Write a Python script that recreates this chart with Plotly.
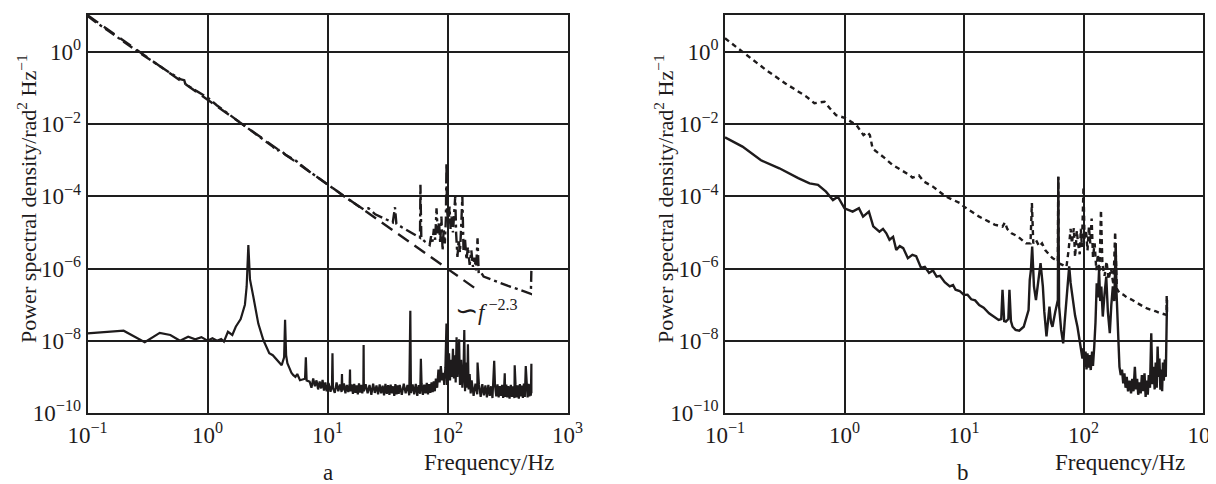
import plotly.graph_objects as go

# The page body keeps an 8px margin, so the figure is drawn 8px smaller than the window
# and all reference pixel positions are shifted by 8px.
OFF = 8
W, H = 1216 - OFF, 484 - OFF
INK = "#1e1b1c"
GRID = "#1e1e1e"
FONT = "Liberation Serif, Times New Roman, serif"

# ---------------- Panel a ----------------
a_top_f = [0.1, 0.12, 0.15, 0.2, 0.25, 0.3, 0.4, 0.5, 0.6, 0.64, 0.66, 0.7, 0.8, 1.0, 1.2, 1.5, 1.8,
           2.2, 2.8, 3.5, 3.8, 4.0, 4.5, 5.5, 7, 8.5, 10, 12, 14, 17, 20, 22, 25, 30, 35, 36.5, 37.5,
           42, 48, 55, 59, 59.5, 60.5, 65, 69, 71, 73, 75, 77, 79, 81, 83, 85, 87, 89, 91, 93, 95, 97,
           98, 99, 102, 104, 106, 108, 111, 114, 116, 118, 121, 124, 127, 130, 133, 136, 140, 144, 148,
           153, 158, 163, 168, 173, 178, 182, 190, 200, 230, 270, 320, 380, 440, 495, 500]
a_top_psd = [10.0, 6.3, 3.8, 1.9, 1.15, 0.76, 0.40, 0.25, 0.174, 0.166, 0.117, 0.112, 0.085, 0.055, 0.033,
             0.019, 0.012, 7.6e-3, 4.0e-3, 2.4e-3, 1.8e-3, 2.0e-3, 1.4e-3, 9.5e-4, 5.0e-4, 3.2e-4, 2.2e-4,
             1.4e-4, 9.5e-5, 6.3e-5, 4.4e-5, 4.7e-5, 3.2e-5, 2.4e-5, 1.9e-5, 5.0e-5, 1.74e-5,
             1.38e-5, 1.05e-5, 8.3e-6, 7.2e-6, 2.1e-4, 6.9e-6, 5.6e-6, 4.8e-6, 4.5e-6, 7.9e-6, 5.6e-6,
             1.26e-5, 6.3e-6, 4.7e-5, 9.5e-6, 2.0e-5, 5.0e-6, 2.75e-5, 3.2e-6, 1.26e-5, 5.0e-6, 2.5e-5,
             8.5e-4, 4.2e-5, 1.78e-5, 5.2e-5, 1.26e-5, 2.75e-5, 1.0e-5, 4.0e-5, 1.0e-4, 9.5e-6, 2.1e-6,
             6.3e-6, 2.8e-6, 1.4e-5, 1.0e-4, 3.2e-6, 6.3e-6, 1.74e-6, 4.0e-6,
             1.26e-6, 3.2e-6, 1.12e-6, 2.0e-6, 8.9e-7, 6.9e-6, 7.4e-7, 7.9e-7, 6.0e-7, 5.0e-7, 4.0e-7,
             3.3e-7, 2.75e-7, 2.3e-7, 2.0e-7, 9.1e-7]

a_fit_f = [0.1, 186]
a_fit_psd = [10.5, 2.3e-7]

a_low_f = [0.1, 0.2, 0.3, 0.4, 0.49, 0.59, 0.69, 0.79, 0.89, 1.0, 1.1, 1.2, 1.3, 1.37, 1.48, 1.61, 1.72,
           1.89, 2.05, 2.12, 2.19, 2.26, 2.41, 2.65, 2.92, 3.27, 3.5, 3.72, 4.15, 4.35, 4.43, 4.52, 4.63,
           4.8, 5.0, 5.19, 5.4, 5.6, 5.9, 6.5, 6.6, 6.7, 7.1,
           7.35, 7.6, 7.85, 8.1, 8.35, 8.6, 8.85, 9.1, 9.35, 9.6, 9.85,
           10.2, 10.6, 10.9, 11.0, 11.1, 11.5, 11.9, 12.3, 12.7, 13.1, 13.2, 13.3, 13.7, 14.1, 14.5, 14.9,
           15.3, 15.4, 15.5, 15.9, 16.3, 16.7, 17.1, 17.5, 17.9, 18.3, 18.7, 19.1, 19.5, 19.9, 20.0, 20.1,
           20.8, 21.6, 22.4, 23.2, 24.0, 24.8, 25.6, 26.4, 27.2, 28.0, 28.8, 29.6, 30.4, 31.2, 32.0, 32.8,
           33.6, 34.4, 35.2, 36.0, 36.8, 37.6, 38.4, 39.2, 40.0,
           41.6, 43.2, 44.8, 46.4, 48.0, 49.0, 49.6, 51.2, 52.8, 54.4, 56.0, 57.6, 59.2, 60.0, 60.8, 62.4,
           64.0, 65.6, 67.2, 68.8, 70.4, 72.0, 73.6, 75.2, 76.8, 78.4, 80.0,
           82, 84, 86, 88, 90, 92, 94, 96, 98, 99, 101, 103, 105, 107, 109, 111, 113, 115, 117, 119, 121,
           123, 125, 127, 130, 133, 136, 138, 140, 143, 146, 148, 150, 153, 156, 159,
           165, 171, 177, 178, 183, 189, 195, 201, 207, 213, 219, 225, 231, 237, 245, 249, 255, 261, 267,
           273, 279, 285, 291, 297, 300, 303, 309, 315,
           321, 329, 337, 345, 353, 361, 363, 369, 377, 385, 393, 401, 409, 417, 425, 433, 441, 449, 457,
           465, 473, 481, 489, 495, 500, 500]
a_low_psd = [1.6e-8, 1.9e-8, 9.1e-9, 1.66e-8, 1.45e-8, 1.0e-8, 1.29e-8, 1.1e-8, 1.26e-8, 1.0e-8, 1.17e-8,
             1.0e-8, 1.12e-8, 9.5e-9, 1.78e-8, 1.45e-8, 2.45e-8,
             4.0e-8, 1.0e-7, 3.2e-7, 4.5e-6, 5.0e-7, 1.66e-7, 3.0e-8, 1.05e-8, 4.5e-9, 4.0e-9, 3.2e-9,
             2.1e-9, 3.5e-9, 3.8e-8, 4.0e-9, 2.4e-9,
             1.8e-9, 1.3e-9, 1.12e-9, 1.0e-9, 1.2e-9, 8.1e-10, 8.9e-10, 3.5e-9, 8.0e-10, 7.4e-10,
             5.0e-10, 9.0e-10, 5.5e-10, 8.0e-10, 4.5e-10, 7.5e-10, 4.8e-10, 8.2e-10, 4.2e-10, 7.0e-10, 4.0e-10,
             6.8e-10, 3.9e-10, 6.0e-10, 4.5e-9, 5.0e-10, 3.6e-10, 7.0e-10, 4.0e-10, 6.2e-10, 3.8e-10, 1.2e-9,
             4.2e-10, 6.6e-10, 3.5e-10, 6.0e-10, 3.8e-10,
             6.5e-10, 1.6e-9, 4.0e-10, 6.2e-10, 3.4e-10, 6.4e-10, 3.6e-10, 5.8e-10, 3.3e-10, 6.6e-10, 3.7e-10,
             6.0e-10, 3.5e-10, 5.6e-10, 7.6e-9, 4.0e-10,
             6.3e-10, 3.5e-10, 6.0e-10, 3.2e-10, 6.5e-10, 3.6e-10, 5.8e-10, 3.3e-10, 6.2e-10, 3.5e-10, 5.7e-10,
             3.1e-10, 6.4e-10, 3.4e-10, 5.9e-10, 3.2e-10,
             6.1e-10, 3.5e-10, 5.5e-10, 3.0e-10, 6.3e-10, 3.3e-10, 5.8e-10, 3.4e-10, 6.0e-10,
             3.2e-10, 6.5e-10, 3.5e-10, 6.0e-10, 3.1e-10, 6.8e-8, 3.6e-10, 6.2e-10, 3.3e-10, 6.4e-10, 3.0e-10,
             5.9e-10, 3.4e-10, 3.2e-9, 6.6e-10, 3.2e-10,
             6.1e-10, 3.5e-10, 6.8e-10, 3.3e-10, 6.3e-10, 3.6e-10, 7.0e-10, 3.8e-10, 7.5e-10, 4.0e-10, 9.0e-10,
             5.0e-10, 1.6e-9, 7.0e-10, 2.0e-9, 8.0e-10, 1.3e-9, 6.0e-10, 1.8e-9, 3.0e-8, 6.0e-10, 2.5e-9,
             4.5e-9, 8.0e-10, 3.0e-9, 1.0e-9, 6.0e-9, 9.0e-10, 4.0e-9, 7.0e-10, 1.26e-8, 1.0e-9,
             8.0e-9, 1.1e-8, 6.0e-10, 3.0e-9, 5.0e-10, 1.5e-9, 2.0e-8, 4.0e-10, 2.5e-9, 5.0e-10, 8.0e-9,
             4.5e-10, 1.2e-9, 3.5e-10, 8.0e-10,
             3.0e-10, 6.5e-10, 3.3e-10, 2.5e-9, 6.0e-10, 2.8e-10, 6.3e-10, 3.1e-10, 5.8e-10, 2.7e-10, 6.0e-10,
             3.0e-10, 5.5e-10, 2.6e-10, 2.8e-9, 5.7e-10, 2.9e-10, 6.2e-10, 2.7e-10,
             5.6e-10, 3.0e-10, 6.0e-10, 2.6e-10, 5.8e-10, 1.26e-9, 2.8e-10, 6.1e-10, 2.7e-10,
             5.6e-10, 2.5e-10, 6.0e-10, 2.8e-10, 5.5e-10, 2.6e-10, 2.1e-9, 6.2e-10, 2.7e-10, 5.8e-10, 2.5e-10,
             6.3e-10, 2.9e-10, 5.7e-10, 2.6e-10, 6.5e-10, 2.8e-10, 2.0e-9, 6.0e-10,
             2.7e-10, 6.4e-10, 2.9e-10, 6.2e-10, 3.0e-10, 2.3e-9, 3.5e-10]

# ---------------- Panel b ----------------
b_top_f = [0.1, 0.145, 0.22, 0.32, 0.48, 0.56, 0.68, 0.75, 0.85, 1.0, 1.26, 1.44, 1.55, 1.63, 1.72, 2.1,
           2.53, 3.5, 3.7, 4.2, 4.6, 5.5, 7.0, 9.3, 10, 13.4, 18, 21, 22, 23, 25, 28, 33, 36, 37, 38, 40,
           42.7, 45, 48, 55, 61, 61.5, 62, 66, 72, 75, 78, 80, 83, 85, 88, 90, 93, 95, 97, 100, 102, 105,
           108, 111, 114, 117, 120, 124, 128, 132, 136, 140, 144, 150, 156, 162, 170, 178, 184, 190, 200,
           215, 230, 250, 270, 290, 316, 340, 370, 400, 430, 462, 480, 495, 497, 500]
b_top_psd = [2.4, 0.91, 0.32, 0.135, 0.058, 0.038, 0.042, 0.028, 0.0178, 0.0151, 9.5e-3, 5.0e-3, 6.0e-3,
             5.0e-3, 2.1e-3, 1.26e-3, 7.4e-4, 3.9e-4, 3.3e-4, 3.8e-4, 2.6e-4, 1.86e-4, 1.0e-4, 6.5e-5,
             5.2e-5, 2.75e-5, 1.66e-5, 1.45e-5, 1.9e-5, 1.26e-5, 9.5e-6, 7.9e-6, 5.0e-6, 5.0e-6, 6.5e-5,
             5.0e-6, 6.2e-6, 4.1e-6, 5.0e-6, 3.2e-6, 1.95e-6, 1.58e-6, 3.5e-4, 1.41e-6, 1.26e-6, 1.12e-6,
             3.2e-6, 1.26e-5, 5.0e-6, 1.32e-5, 2.1e-6, 1.12e-5, 5.0e-6, 2.5e-6, 1.26e-5, 4.0e-6, 1.86e-4,
             6.3e-6, 1.17e-5, 3.2e-6, 1.45e-5, 5.0e-6, 2.45e-5, 2.1e-6, 5.0e-6, 9.1e-7, 2.5e-6, 7.9e-7,
             4.2e-5, 1.26e-6, 6.3e-7, 1.58e-6, 5.0e-7, 1.0e-6, 3.5e-7, 1.05e-5, 2.8e-7, 2.1e-7,
             1.9e-7, 1.6e-7, 1.41e-7, 1.2e-7, 1.05e-7, 8.9e-8, 7.9e-8, 7.0e-8, 6.6e-8, 6.0e-8, 5.5e-8,
             5.3e-8, 5.2e-8, 1.86e-7, 5.2e-8]

b_low_f = [0.1, 0.14, 0.2, 0.285, 0.41, 0.51, 0.6, 0.7, 0.8, 0.88, 1.0, 1.17, 1.32, 1.43, 1.6, 1.74, 1.96,
           2.1, 2.24, 2.38, 2.55, 2.71, 2.9, 3.1, 3.39, 3.7, 3.98, 4.37, 4.7, 5.1, 5.5, 5.9, 6.3, 6.9, 7.6,
           8.1, 8.5, 9.2, 10, 10.7, 11.5, 12.4, 13.4, 14.6, 16.2, 17.8, 19.5, 20.5, 21, 21.7, 22.4, 23.5,
           24, 24.7, 25.5, 27, 29, 31.6, 33, 34.7, 35.5, 36.3, 37.2, 38.5, 40, 42, 43.7, 45.7, 47, 49,
           50.5, 51.9, 53.5, 55, 58, 61, 61.5, 62.5, 65, 67.6, 69.5, 71.6, 75.9, 78, 81, 85, 89, 92, 95.5,
           98, 100, 102, 104, 106, 108, 110, 112, 115, 118, 120, 123, 126, 129, 132, 135, 138, 141, 145,
           150, 155, 160, 166, 171, 176, 181, 186, 189, 193, 197, 200, 205, 210, 215, 220, 225, 230, 236,
           243, 250, 256, 262, 269, 275, 281, 287, 294, 301, 308, 316, 324, 331, 338, 345, 352, 360, 369,
           377, 385, 394, 402, 410, 417, 425, 432, 440, 447, 455, 462, 470, 479, 488, 495, 500]
b_low_psd = [4.3e-3, 2.4e-3, 1.0e-3, 6.0e-4, 3.2e-4, 2.3e-4, 2.1e-4, 1.35e-4, 7.9e-5, 9.8e-5, 4.7e-5,
             3.8e-5, 4.7e-5, 2.75e-5, 3.8e-5, 1.48e-5, 1.05e-5, 1.26e-5, 9.5e-6, 6.3e-6, 7.6e-6, 3.3e-6,
             4.2e-6, 3.7e-6, 1.95e-6, 2.4e-6, 2.2e-6, 1.05e-6, 1.12e-6, 7.6e-7, 8.9e-7, 6.0e-7, 6.3e-7,
             4.2e-7, 3.2e-7, 3.5e-7, 2.6e-7, 2.4e-7, 1.86e-7, 1.9e-7, 1.41e-7, 1.32e-7, 9.8e-8, 8.3e-8,
             5.8e-8, 4.8e-8, 3.8e-8, 4.0e-8, 2.6e-7, 3.5e-8, 3.4e-8, 4.0e-8, 2.6e-7, 3.5e-8, 2.45e-8,
             2.0e-8, 1.9e-8, 2.45e-8, 4.0e-8, 7.1e-8, 4.9e-7, 9.1e-7, 4.1e-6, 3.2e-7, 1.35e-7, 6.3e-7,
             1.41e-6, 3.2e-7, 6.3e-8, 1.32e-8, 4.0e-8, 8.9e-8, 3.2e-8, 2.45e-8, 6.3e-8, 1.35e-7, 3.5e-4,
             8.9e-8, 2.0e-8, 8.5e-9, 3.2e-8, 1.35e-7, 1.15e-6, 4.0e-7, 1.35e-7, 5.0e-8, 2.45e-8, 1.26e-8,
             6.9e-9, 3.2e-9, 6.3e-9, 1.9e-9, 5.0e-9, 1.6e-9, 4.5e-9, 1.8e-9, 4.0e-9, 1.55e-9, 5.0e-9,
             2.0e-9, 6.9e-9, 3.2e-8, 3.9e-7, 1.6e-7, 9.1e-7, 1.26e-7, 3.2e-7, 4.7e-8, 2.0e-7, 6.0e-7,
             6.3e-8, 1.62e-8, 1.0e-7, 3.2e-7, 1.26e-7, 5.0e-6, 2.1e-7, 2.5e-8, 5.0e-9, 1.9e-9, 1.12e-9,
             1.6e-9, 6.6e-10, 1.26e-9, 5.0e-10, 1.0e-9, 4.0e-10, 7.9e-10, 3.5e-10, 8.9e-10, 4.0e-10,
             1.9e-9, 4.5e-10, 8.9e-10, 3.2e-10, 7.1e-10, 3.5e-10, 1.12e-9, 4.0e-10, 1.26e-9, 2.8e-10,
             7.9e-10, 3.2e-10, 1.12e-9, 5.0e-10, 1.62e-8, 6.3e-10, 1.9e-9, 4.5e-10, 2.5e-9, 5.0e-10,
             6.9e-9, 1.0e-9, 3.2e-9, 4.4e-10, 1.6e-9, 4.0e-10, 2.5e-9, 7.9e-10, 3.0e-9, 1.0e-9, 6.3e-9,
             1.35e-7]

x_tick_vals = [0.1, 1, 10, 100, 1000]
x_tick_text = ["10<sup>−1</sup>", "10<sup>0</sup>", "10<sup>1</sup>", "10<sup>2</sup>", "10<sup>3</sup>"]
y_tick_vals = [1e-10, 1e-8, 1e-6, 1e-4, 1e-2, 1]
y_tick_text = ["10<sup>−10</sup>", "10<sup>−8</sup>", "10<sup>−6</sup>", "10<sup>−4</sup>",
               "10<sup>−2</sup>", "10<sup>0</sup>"]

y_title = "Power spectral density/rad<sup>2</sup> Hz<sup>−1</sup>"
x_title = "Frequency/Hz"
fit_label = "<span style='font-size:28px'>∽</span><i>f</i><sup> −2.3</sup>"


def px(x):
    return (x - OFF) / W


def py(y):
    return 1 - (y - OFF) / H


fig = go.Figure()
fig.add_trace(go.Scatter(x=a_fit_f, y=a_fit_psd, mode="lines", xaxis="x", yaxis="y",
                         line=dict(color=INK, width=2.4, dash="13px,7px")))
fig.add_trace(go.Scatter(x=a_top_f, y=a_top_psd, mode="lines", xaxis="x", yaxis="y",
                         line=dict(color=INK, width=2.4, dash="11px,4px,3px,4px")))
fig.add_trace(go.Scatter(x=a_low_f, y=a_low_psd, mode="lines", xaxis="x", yaxis="y",
                         line=dict(color=INK, width=2.2)))
fig.add_trace(go.Scatter(x=b_top_f, y=b_top_psd, mode="lines", xaxis="x2", yaxis="y2",
                         line=dict(color=INK, width=2.4, dash="5px,4px")))
fig.add_trace(go.Scatter(x=b_low_f, y=b_low_psd, mode="lines", xaxis="x2", yaxis="y2",
                         line=dict(color=INK, width=2.4)))

axis_common = dict(type="log", showline=True, mirror=True, linecolor=GRID, linewidth=1.8,
                   showgrid=True, gridcolor=GRID, gridwidth=1.6, ticks="", zeroline=False,
                   automargin=False, ticklabeloverflow="allow",
                   tickfont=dict(family=FONT, size=23, color=INK))
xa = dict(axis_common, range=[-1, 3], tickvals=x_tick_vals, ticktext=x_tick_text)
ya = dict(axis_common, range=[-10, 1.025], tickvals=y_tick_vals, ticktext=y_tick_text)

fig.update_layout(
    width=W, height=H, margin=dict(l=0, r=0, t=0, b=0),
    paper_bgcolor="white", plot_bgcolor="white", showlegend=False,
    xaxis=dict(xa, domain=[px(87.5), px(567.5)], anchor="y"),
    yaxis=dict(ya, domain=[py(413), py(15)], anchor="x"),
    xaxis2=dict(xa, domain=[px(725), px(1203)], anchor="y2"),
    yaxis2=dict(ya, domain=[py(413), py(15)], anchor="x2"),
)

ann_font = dict(family=FONT, size=23, color=INK)
for cx in [27, 664]:
    fig.add_annotation(x=px(cx), y=py(199), xref="paper", yref="paper", text=y_title,
                       textangle=-90, showarrow=False, font=dict(ann_font, size=22),
                       xanchor="center", yanchor="middle")
for rx, cx, lab in [(556, 327.5, "a"), (1187, 963, "b")]:
    fig.add_annotation(x=px(rx), y=py(462), xref="paper", yref="paper", text=x_title,
                       showarrow=False, font=ann_font, xanchor="right", yanchor="middle")
    fig.add_annotation(x=px(cx), y=py(472), xref="paper", yref="paper", text=lab,
                       showarrow=False, font=ann_font, xanchor="center", yanchor="middle")
fig.add_annotation(x=px(486), y=py(310), xref="paper", yref="paper", text=fit_label,
                   showarrow=False, font=ann_font, xanchor="center", yanchor="middle")

fig.write_html("out.html")
